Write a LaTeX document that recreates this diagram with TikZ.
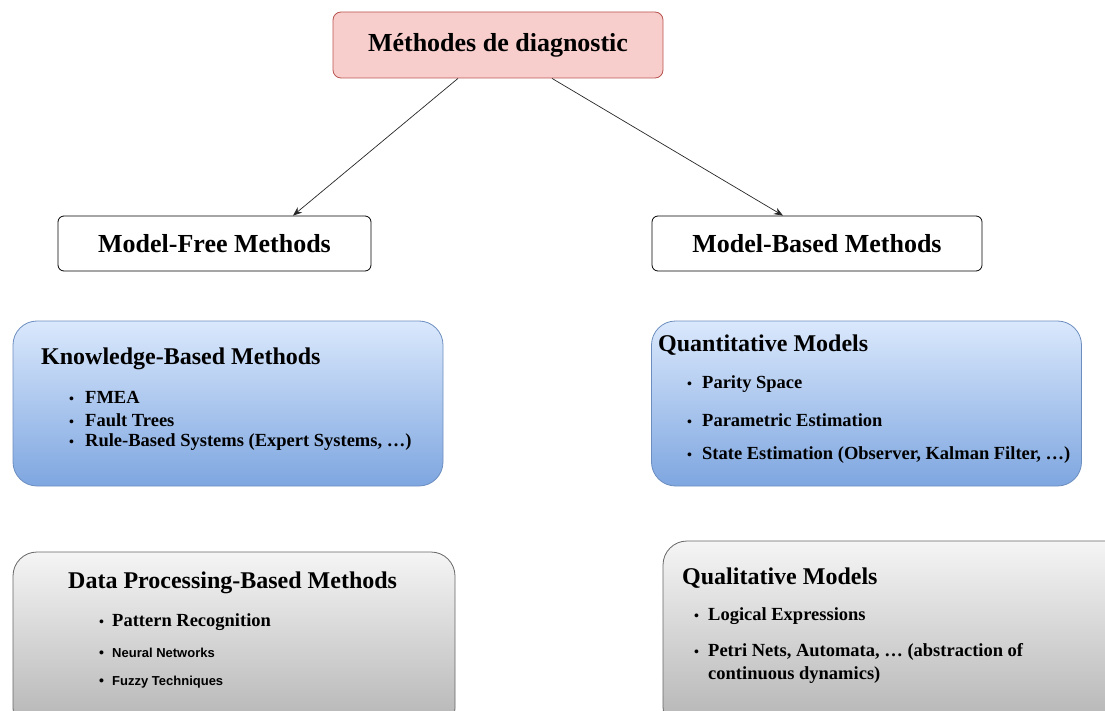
\documentclass[tikz,border=0pt]{standalone}
\usepackage{fontspec}
\setmainfont{Liberation Serif}
\newfontfamily\arialfont{Liberation Sans}
\usetikzlibrary{arrows.meta}

\definecolor{rootfill}{HTML}{F8CECC}
\definecolor{rootline}{HTML}{B85450}
\definecolor{bluetop}{HTML}{DAE8FC}
\definecolor{bluebottom}{HTML}{7EA6E0}
\definecolor{blueline}{HTML}{6C8EBF}
\definecolor{graytop}{HTML}{F5F5F5}
\definecolor{graybottom}{HTML}{B3B3B3}
\definecolor{grayline}{HTML}{666666}

\tikzset{
  root/.style={draw=rootline, fill=rootfill, rounded corners=8pt, line width=0.8pt,
    minimum width=330pt, minimum height=66pt, inner sep=0pt,
    font=\bfseries\fontsize{26}{30}\selectfont},
  category/.style={draw=black, fill=white, rounded corners=6pt, line width=0.8pt,
    minimum height=55pt, inner sep=0pt,
    font=\bfseries\fontsize{26}{30}\selectfont},
  bluepanel/.style={draw=blueline, top color=bluetop, bottom color=bluebottom,
    rounded corners=24pt, line width=0.8pt, minimum width=430pt, minimum height=165pt, inner sep=0pt},
  graypanel/.style={draw=grayline, top color=graytop, bottom color=graybottom,
    rounded corners=24pt, line width=0.8pt, inner sep=0pt},
  heading/.style={anchor=west, inner sep=0pt, font=\bfseries\fontsize{24}{28}\selectfont},
  entry/.style={anchor=west, inner sep=0pt, font=\bfseries\fontsize{18.5}{23}\selectfont},
  sansentry/.style={anchor=west, inner sep=0pt, font=\arialfont\bfseries\fontsize{13}{16}\selectfont},
  link/.style={draw=black!85, line width=0.7pt, -{Stealth[length=9pt,width=7pt]}}
}

% bullet set in a fixed-width box so wrapped lines line up with the text
\newcommand{\dotitem}[2][14pt]{\makebox[#1][l]{\fontsize{14}{14}\selectfont\textbullet}#2}

\begin{document}
\begin{tikzpicture}[x=1pt,y=-1pt]
\useasboundingbox (0,0) rectangle (1105,711);

% top level
\node[root] (diag) at (498,45) {Méthodes de diagnostic};

% two families
\node[category, minimum width=313pt] (free) at (214.5,243.5) {Model-Free Methods};
\node[category, minimum width=330pt] (based) at (817,243.5) {Model-Based Methods};

\draw[link] (diag.south -| 458,0) -- (free.north -| 293,0);
\draw[link] (diag.south -| 552,0) -- (based.north -| 783,0);

% model-free panels
\node[bluepanel] (knowledge) at (228,403.5) {};
\node[heading] (knowledgeT) at (41,359) {Knowledge-Based Methods};
\node[entry] (k1) at (69,397) {\dotitem[16pt]{FMEA}};
\node[entry] (k2) at (69,420) {\dotitem[16pt]{Fault Trees}};
\node[entry] (k3) at (69,442) {\dotitem[16pt]{Rule-Based Systems (Expert Systems, …)}};

\node[graypanel, minimum width=442pt, minimum height=180pt] (data) at (234,642) {};
\node[heading] (dataT) at (68,583) {Data Processing-Based Methods};
\node[entry] (d1) at (99,622) {\dotitem[13pt]{Pattern Recognition}};
\node[sansentry] (d2) at (99,653) {\dotitem[13pt]{Neural Networks}};
\node[sansentry] (d3) at (99,682) {\dotitem[13pt]{Fuzzy Techniques}};

% model-based panels
\node[bluepanel] (quanti) at (866.5,403.5) {};
\node[heading] (quantiT) at (658,345) {Quantitative Models};
\node[entry] (q1) at (687,384) {\dotitem[15pt]{Parity Space}};
\node[entry] (q2) at (687,420) {\dotitem[15pt]{Parametric Estimation}};
\node[entry] (q3) at (687,455) {\dotitem[15pt]{State Estimation (Observer, Kalman Filter, …)}};

\node[graypanel, minimum width=470pt, minimum height=190pt] (quali) at (898,636) {};
\node[heading] (qualiT) at (682,578) {Qualitative Models};
\node[entry] (l1) at (694,616) {\dotitem{Logical Expressions}};
\node[entry, align=left, anchor=north west] (l2) at (694,643) {\dotitem{Petri Nets, Automata, … (abstraction of}\\
  \hspace{14pt}continuous dynamics)};
\end{tikzpicture}
\end{document}
